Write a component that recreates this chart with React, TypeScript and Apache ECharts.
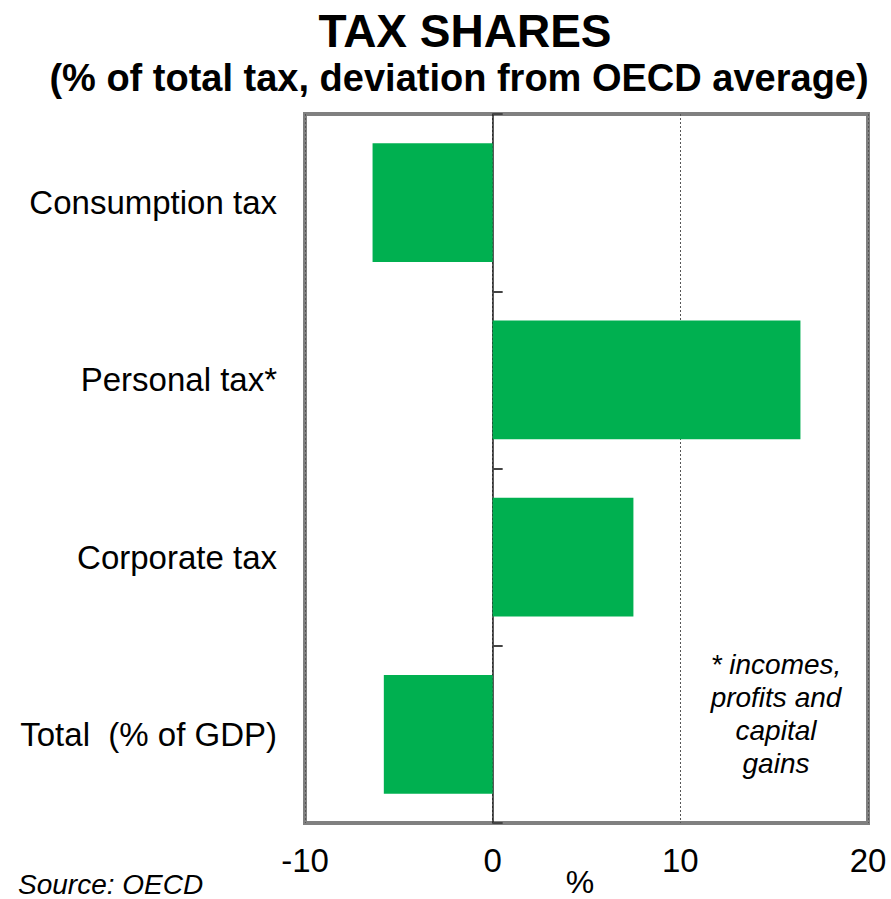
import React, { useEffect, useRef } from "react";
import * as echarts from "echarts";

const categories = ["Consumption tax", "Personal tax*", "Corporate tax", "Total  (% of GDP)"];
const values = [-6.4, 16.4, 7.5, -5.8];
const xTicks = [-10, 0, 10, 20];
const noteLines = ["* incomes,", "profits and", "capital", "gains"];

const FONT = "Liberation Sans, Arial, sans-serif";

export default function App() {
  const ref = useRef<HTMLDivElement>(null);
  useEffect(() => {
    if (!ref.current) return;
    const chart = echarts.init(ref.current, null, { renderer: "svg" });
    chart.setOption({
      animation: false,
      backgroundColor: "#ffffff",
      textStyle: { fontFamily: FONT },
      grid: {
        left: 305,
        right: 23,
        top: 114,
        bottom: 76,
        show: true,
        borderColor: "#808080",
        borderWidth: 4,
        backgroundColor: "transparent",
      },
      xAxis: {
        type: "value",
        min: xTicks[0],
        max: xTicks[xTicks.length - 1],
        interval: 10,
        axisLine: { show: false },
        axisTick: { show: false },
        axisLabel: {
          show: true,
          fontSize: 33,
          color: "#000",
          margin: 21,
          fontFamily: FONT,
        },
        splitLine: {
          show: true,
          lineStyle: { color: "#555", width: 1, type: [2, 2] },
        },
      },
      yAxis: [
        {
          type: "category",
          data: categories,
          inverse: true,
          axisLine: { show: false, onZero: false },
          axisTick: { show: false },
          axisLabel: {
            fontSize: 33,
            color: "#000",
            margin: 28,
            fontFamily: FONT,
          },
          splitLine: { show: false },
        },
        {
          type: "category",
          data: categories,
          inverse: true,
          position: "left",
          axisLine: { show: true, onZero: true, lineStyle: { color: "#222", width: 1.5 } },
          axisTick: { show: true, inside: true, length: 10, lineStyle: { color: "#444", width: 2 } },
          axisLabel: { show: false },
          splitLine: { show: false },
        },
      ],
      series: [
        {
          type: "bar",
          data: values,
          yAxisIndex: 0,
          barCategoryGap: "33%",
          itemStyle: { color: "#00B050" },
          z: 1,
        },
      ],
      graphic: [
        {
          type: "text",
          x: 465,
          y: 31,
          style: {
            text: "TAX SHARES",
            font: `bold 46px ${FONT}`,
            fill: "#000",
            textAlign: "center",
            textVerticalAlign: "middle",
          },
        },
        {
          type: "text",
          x: 459,
          y: 78,
          style: {
            text: "(% of total tax, deviation from OECD average)",
            font: `bold 38px ${FONT}`,
            fill: "#000",
            textAlign: "center",
            textVerticalAlign: "middle",
          },
        },
        {
          type: "text",
          x: 580,
          y: 882,
          style: {
            text: "%",
            font: `32px ${FONT}`,
            fill: "#000",
            textAlign: "center",
            textVerticalAlign: "middle",
          },
        },
        {
          type: "text",
          x: 18,
          y: 884,
          style: {
            text: "Source: OECD",
            font: `italic 28px ${FONT}`,
            fill: "#000",
            textAlign: "left",
            textVerticalAlign: "middle",
          },
        },
        {
          type: "text",
          x: 776,
          y: 714,
          style: {
            text: noteLines.join("\n"),
            font: `italic 28px ${FONT}`,
            lineHeight: 33,
            fill: "#000",
            textAlign: "center",
            textVerticalAlign: "middle",
          },
        },
      ],
    });
    return () => chart.dispose();
  }, []);
  return <div ref={ref} style={{ width: 891, height: 899, position: "absolute", left: 0, top: 0 }} />;
}
